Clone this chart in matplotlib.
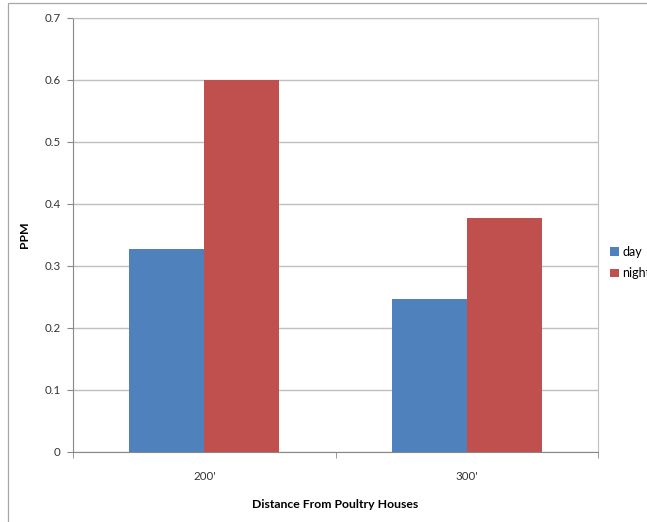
import matplotlib
matplotlib.use("Agg")
import matplotlib.pyplot as plt
from matplotlib.patches import Rectangle, Patch
import numpy as np

categories = ["200'", "300'"]
series_names = ["day", "night"]
day_values = [0.327, 0.246]
night_values = [0.6, 0.378]
y_ticks = [0, 0.1, 0.2, 0.3, 0.4, 0.5, 0.6, 0.7]
y_tick_labels = ["0", "0.1", "0.2", "0.3", "0.4", "0.5", "0.6", "0.7"]

plt.rcParams['font.family'] = ['Lato', 'DejaVu Sans']

W, H = 647, 522
fig = plt.figure(figsize=(W / 100, H / 100), dpi=100)

# outer chart border
fig.patches.append(Rectangle((8 / W, -0.1), 1.2, 1 - 3 / H + 0.1, transform=fig.transFigure,
                             fill=False, edgecolor='#a6a6a6', linewidth=0.9))

ax = fig.add_axes([73 / W, 70 / H, (598 - 73) / W, (452 - 18) / H])

x = np.arange(len(categories))
w = 2 / 7
blue = '#4F81BD'
red = '#C0504D'
ax.bar(x - w / 2, day_values, width=w, color=blue, edgecolor='none', zorder=3)
ax.bar(x + w / 2, night_values, width=w, color=red, edgecolor='none', zorder=3)

ax.set_xlim(-0.5, 1.5)
ax.set_ylim(0, 0.7)
ax.set_yticks(y_ticks)
ax.set_yticklabels(y_tick_labels, fontsize=8.3, color='#333333')
ax.set_xticks(x)
ax.set_xticklabels(categories, fontsize=8.3, color='#333333')
ax.tick_params(axis='x', length=0, pad=14)
ax.set_xticks([-0.5, 0.5, 1.5], minor=True)
ax.tick_params(axis='x', which='minor', length=4, color='#888888', direction='out')
ax.tick_params(axis='y', length=4, color='#888888', direction='out', pad=5)

ax.grid(axis='y', color='#bfbfbf', linewidth=1.0, zorder=0)
for s in ['top', 'right']:
    ax.spines[s].set_color('#bfbfbf')
for s in ['left', 'bottom']:
    ax.spines[s].set_color('#888888')

ax.set_ylabel("PPM", fontsize=8.8, fontweight='bold', labelpad=10)
ax.set_xlabel("Distance From Poultry Houses", fontsize=8.8, fontweight='bold', labelpad=12)

handles = [Patch(facecolor=blue, edgecolor='none'), Patch(facecolor=red, edgecolor='none')]
fig.legend(handles, series_names, loc='upper left', bbox_to_anchor=(610 / W, 1 - 246 / H),
           frameon=False, fontsize=9, handlelength=0.7, handleheight=0.7,
           handletextpad=0.3, labelspacing=0.75, borderaxespad=0, borderpad=0)

fig.savefig("out.png", dpi=100, facecolor='white')
